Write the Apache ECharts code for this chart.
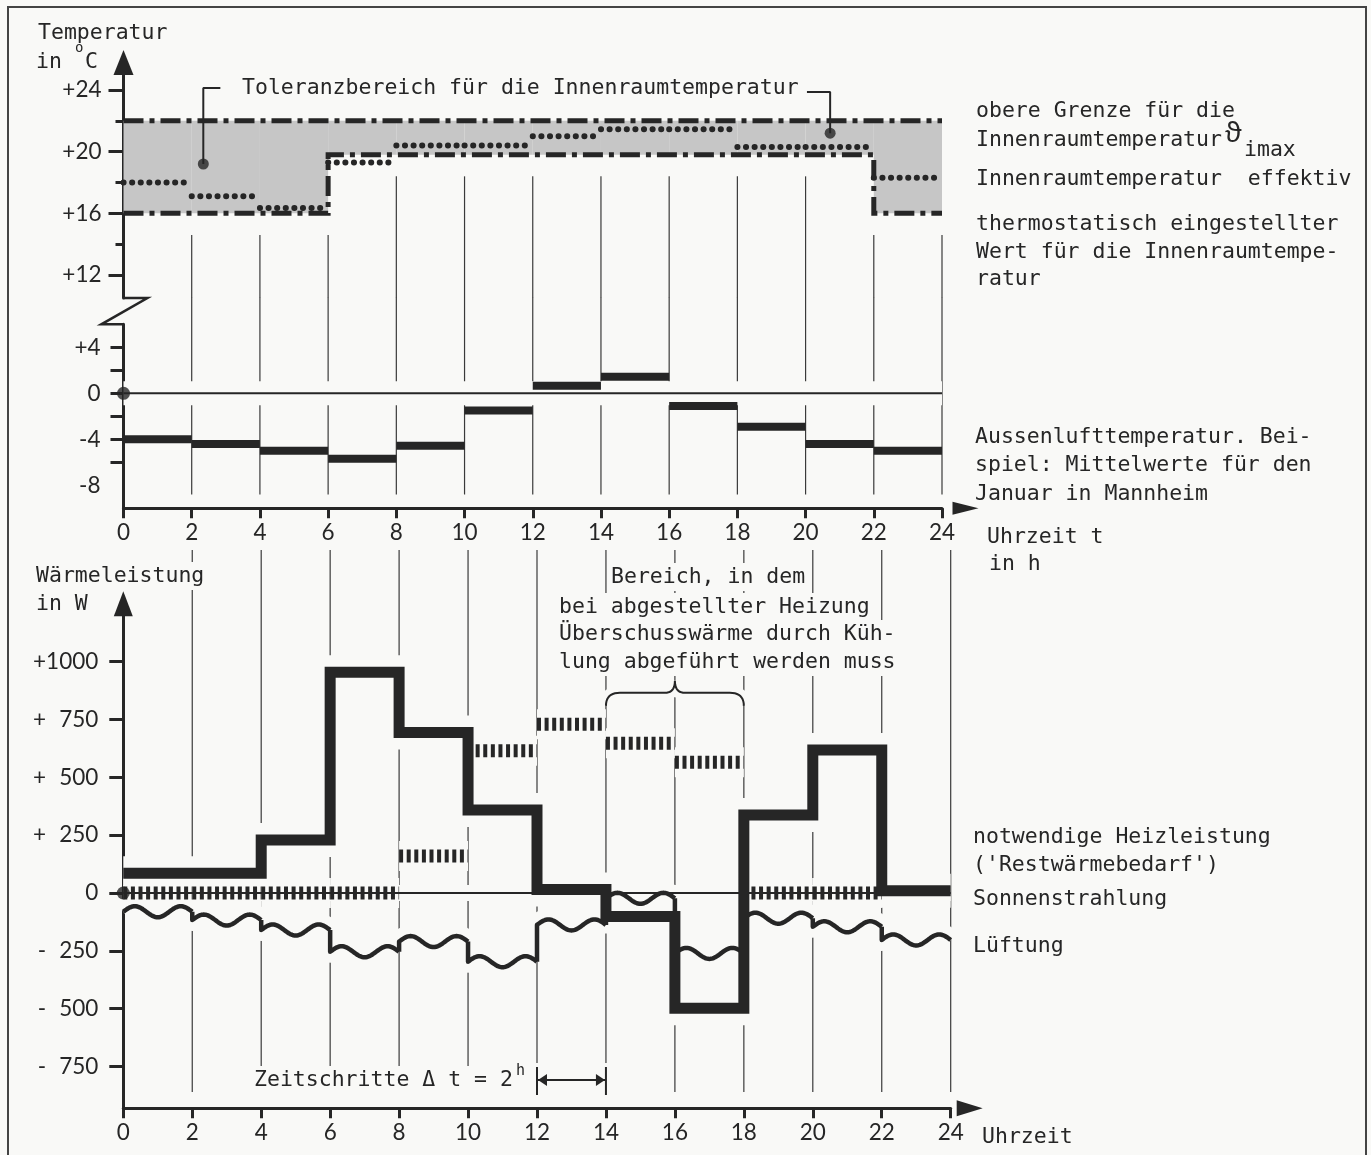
<!DOCTYPE html>
<html>
<head>
<meta charset="utf-8">
<script src="https://cdn.jsdelivr.net/npm/echarts@6/dist/echarts.min.js"></script>
<style>
  html, body { margin: 0; padding: 0; background: #f9f9f7; }
  #chart { width: 1371px; height: 1155px; }
</style>
</head>
<body>
<div id="chart"></div>
<script>
// ---------- data ----------
const hours = [0, 2, 4, 6, 8, 10, 12, 14, 16, 18, 20, 22];   // start of each 2-h time step
const STEP = 2;
const timeTicks = [0, 2, 4, 6, 8, 10, 12, 14, 16, 18, 20, 22, 24];

// upper diagram: temperatures in °C
const tolUpper   = [22, 22, 22, 22, 22, 22, 22, 22, 22, 22, 22, 22];
const tolLower   = [16, 16, 16, 19.8, 19.8, 19.8, 19.8, 19.8, 19.8, 19.8, 19.8, 16];
const indoorEff  = [18.0, 17.1, 16.35, 19.3, 20.4, 20.4, 21.0, 21.45, 21.45, 20.3, 20.3, 18.3];
const outdoorAir = [-4.0, -4.4, -5.0, -5.7, -4.55, -1.5, 0.65, 1.45, -1.1, -2.9, -4.4, -5.0];

// lower diagram: heat flows in W (null = not drawn in the original)
const heatingNeed = [85, 85, 229, 954, 693, 359, 15, -102, -498, 337, 618, 10];
const solarGain   = [0, 0, 0, 0, 160, 615, 729, 647, 565, 0, 0, null];
const ventilation = [-81, -117, -160, -254, -210, -297, -138, -23, -261, -109, -146, -203];

// tick labels
const tempUpperLabels = [12, 16, 20, 24];
const tempUpperMinor  = [14, 18, 22];
const tempLowerLabels = [-8, -4, 0, 4];
const tempLowerTicks  = [-6, -4, -2, 0, 2, 4];
const powerLabels     = [-750, -500, -250, 0, 250, 500, 750, 1000];

// annotation anchors (hours, value)
const tolLeaderLeft  = [[2.84, 24.13], [2.34, 24.13], [2.34, 19.2]];
const tolLeaderRight = [[20.04, 23.87], [20.72, 23.87], [20.72, 21.2]];
const tolDots        = [[2.34, 19.2], [20.72, 21.2]];
const coolingBrace   = { from: 14, to: 18, level: 865 };
const timeStepMark   = { from: 12, to: 14, level: -808, lo: -873, hi: -752 };

// ---------- styles ----------
const INK = '#262626';
const BG = '#f9f9f7';
const GRIDC = '#3a3a3a';
const BAND = '#c6c6c6';
const MONO = '"DejaVu Sans Mono", monospace';
const NUM = 'Lato, "DejaVu Sans", sans-serif';

// ---------- helpers ----------
const segs = vals => hours.map((h, i) => [h, h + STEP, vals[i] == null ? NaN : vals[i]]);
const steps = vals => hours.map((h, i) => [h, vals[i]]).concat([[24, vals[vals.length - 1]]]);
const fmtTemp = v => v > 0 ? '+' + v : (v < 0 ? '-' + (-v) : '0');
const fmtPower = v => v === 0 ? '0' : (v > 0 ? '+' : '-') + (Math.abs(v) < 1000 ? '\u2007' : '') + Math.abs(v);

function vLine(topVal, botVal, width) {
  return function (params, api) {
    const h = api.value(0);
    const t = topVal == null ? api.value(1) : topVal;
    const a = api.coord([h, t]);
    const b = api.coord([h, botVal]);
    return { type: 'line', shape: { x1: a[0], y1: a[1], x2: b[0], y2: b[1] },
             style: { stroke: GRIDC, lineWidth: width || 1.2 } };
  };
}
function hSeg(style) {
  return function (params, api) {
    const v = api.value(2);
    if (v == null || isNaN(v)) return null;
    const a = api.coord([api.value(0), v]);
    const b = api.coord([api.value(1), v]);
    return { type: 'line', shape: { x1: a[0], y1: a[1], x2: b[0], y2: b[1] }, style: Object.assign({}, style) };
  };
}
function waveRender(style) {
  return function (params, api) {
    const s = api.value(0), e = api.value(1), v = api.value(2), pv = api.value(3);
    const a = api.coord([s, v]), b = api.coord([e, v]), p = api.coord([s, pv]);
    const pts = [[a[0], p[1]]];
    const N = 60, cycles = 1.5, amp = 5.5;
    for (let k = 0; k <= N; k++) {
      const t = k / N;
      pts.push([a[0] + (b[0] - a[0]) * t, a[1] - amp * Math.sin(2 * Math.PI * cycles * t)]);
    }
    return { type: 'polyline', shape: { points: pts }, style: Object.assign({ fill: null, lineJoin: 'round' }, style) };
  };
}

// ---------- derived series data ----------
const vT1 = timeTicks.slice(1).map(h => {
  const i = h / STEP;
  const l = tolLower[i - 1];
  const r = i < hours.length ? tolLower[i] : l;
  return [h, Math.min(l, r) - 1.4];
});
const vOnly = timeTicks.slice(1).map(h => [h]);
const bandData = hours.map((h, i) => [h, h + STEP, tolLower[i], tolUpper[i]]);
const ventData = hours.map((h, i) => [h, h + STEP, ventilation[i], i > 0 ? ventilation[i - 1] : ventilation[i]]);

const axLine = { color: INK, width: 3 };
const tickStyle = { color: INK, width: 3 };
const numLabel = { color: INK, fontFamily: NUM, fontSize: 22.5 };

const option = {
  backgroundColor: BG,
  animation: false,
  grid: [
    { left: 123.5, width: 818.5, top: 74.6, height: 223.5 },
    { left: 123.5, width: 818.5, top: 324.3, height: 184 },
    { left: 123.3, width: 827.4, top: 615.3, height: 492.9 }
  ],
  xAxis: [
    { gridIndex: 0, type: 'value', min: 0, max: 24, show: false },
    { gridIndex: 1, type: 'value', min: 0, max: 24, interval: 2,
      axisLine: { show: true, onZero: false, lineStyle: axLine, symbol: ['none', 'triangle'], symbolSize: [13, 26], symbolOffset: [0, 23.5] },
      axisTick: { show: true, length: 10, lineStyle: tickStyle },
      axisLabel: Object.assign({ margin: 13 }, numLabel),
      splitLine: { show: false } },
    { gridIndex: 2, type: 'value', min: 0, max: 24, interval: 2,
      axisLine: { show: true, onZero: false, lineStyle: axLine, symbol: ['none', 'triangle'], symbolSize: [16, 26], symbolOffset: [0, 19] },
      axisTick: { show: true, length: 10, lineStyle: tickStyle },
      axisLabel: Object.assign({ margin: 13 }, numLabel),
      splitLine: { show: false } }
  ],
  yAxis: [
    { gridIndex: 0, type: 'value', min: 10.5, max: 25,
      axisLine: { show: true, onZero: false, lineStyle: axLine, symbol: ['none', 'triangle'], symbolSize: [20, 25], symbolOffset: [0, 12] },
      axisTick: { show: true, customValues: tempUpperLabels, length: 15, lineStyle: tickStyle },
      axisLabel: Object.assign({ customValues: tempUpperLabels, formatter: fmtTemp, margin: 22 }, numLabel),
      splitLine: { show: false } },
    { gridIndex: 0, type: 'value', position: 'left', min: 10.5, max: 25,
      axisLine: { show: false },
      axisTick: { show: true, customValues: tempUpperMinor, length: 8, lineStyle: tickStyle },
      axisLabel: { show: false }, splitLine: { show: false } },
    { gridIndex: 1, type: 'value', min: -10, max: 6,
      axisLine: { show: true, onZero: false, lineStyle: axLine },
      axisTick: { show: true, customValues: tempLowerTicks, length: 13, lineStyle: tickStyle },
      axisLabel: Object.assign({ customValues: tempLowerLabels, formatter: fmtTemp, margin: 23 }, numLabel),
      splitLine: { show: false } },
    { gridIndex: 2, type: 'value', min: -930, max: 1200,
      axisLine: { show: true, onZero: false, lineStyle: axLine, symbol: ['none', 'triangle'], symbolSize: [19, 25], symbolOffset: [0, 11.5] },
      axisTick: { show: true, customValues: powerLabels, length: 14, lineStyle: tickStyle },
      axisLabel: Object.assign({ customValues: powerLabels, formatter: fmtPower, margin: 25 }, numLabel),
      splitLine: { show: false } }
  ],
  series: [
    // ---- upper diagram ----
    { type: 'custom', name: 'gridT1', xAxisIndex: 0, yAxisIndex: 0, z: 1, silent: true, clip: false,
      data: vT1, renderItem: vLine(null, 10.5) },
    { type: 'custom', name: 'gridT2', xAxisIndex: 1, yAxisIndex: 2, z: 1, silent: true, clip: false,
      data: vOnly, renderItem: vLine(8.3, -8.8) },
    { type: 'custom', name: 'Toleranzbereich', xAxisIndex: 0, yAxisIndex: 0, z: 3, silent: true,
      data: bandData,
      renderItem: function (params, api) {
        const a = api.coord([api.value(0), api.value(3)]);
        const b = api.coord([api.value(1), api.value(2)]);
        return { type: 'rect', shape: { x: a[0], y: a[1], width: b[0] - a[0], height: b[1] - a[1] }, style: { fill: BAND } };
      } },
    { type: 'line', name: 'obere Grenze', xAxisIndex: 0, yAxisIndex: 0, z: 4, step: 'end', symbol: 'none',
      data: steps(tolUpper), lineStyle: { color: INK, width: 5, type: [20, 6, 5, 6] } },
    { type: 'line', name: 'thermostatisch eingestellter Wert', xAxisIndex: 0, yAxisIndex: 0, z: 4, step: 'end', symbol: 'none',
      data: steps(tolLower), lineStyle: { color: INK, width: 5, type: [20, 6, 5, 6], join: 'miter' } },
    { type: 'custom', name: 'Innenraumtemperatur effektiv', xAxisIndex: 0, yAxisIndex: 0, z: 5,
      data: segs(indoorEff), renderItem: hSeg({ stroke: INK, lineWidth: 6, lineDash: [0.1, 8.5], lineCap: 'round' }) },
    { type: 'line', xAxisIndex: 0, yAxisIndex: 0, z: 5, symbol: 'none', data: tolLeaderLeft, lineStyle: { color: INK, width: 2 } },
    { type: 'line', xAxisIndex: 0, yAxisIndex: 0, z: 5, symbol: 'none', data: tolLeaderRight, lineStyle: { color: INK, width: 2 } },
    { type: 'scatter', xAxisIndex: 0, yAxisIndex: 0, z: 6, data: tolDots, symbolSize: 11, itemStyle: { color: INK } },

    { type: 'line', xAxisIndex: 1, yAxisIndex: 2, z: 2, symbol: 'none', data: [[0, 0], [24, 0]], lineStyle: { color: BG, width: 24 } },
    { type: 'line', xAxisIndex: 1, yAxisIndex: 2, z: 5, symbol: 'none', data: [[0, 0], [24, 0]], lineStyle: { color: INK, width: 2 } },
    { type: 'scatter', xAxisIndex: 1, yAxisIndex: 2, z: 7, data: [[0, 0]], symbolSize: 13, itemStyle: { color: INK } },
    { type: 'custom', name: 'Aussenlufttemperatur', xAxisIndex: 1, yAxisIndex: 2, z: 6,
      data: segs(outdoorAir),
      renderItem: function (params, api) {
        const a = api.coord([api.value(0), api.value(2)]);
        const b = api.coord([api.value(1), api.value(2)]);
        return { type: 'rect', shape: { x: a[0], y: a[1] - 4, width: b[0] - a[0], height: 8 }, style: { fill: INK } };
      } },

    // ---- lower diagram ----
    { type: 'custom', name: 'gridB', xAxisIndex: 2, yAxisIndex: 3, z: 1, silent: true, clip: false,
      data: vOnly, renderItem: vLine(1482, -860) },
    // halos (hide grid lines around marks)
    { type: 'line', xAxisIndex: 2, yAxisIndex: 3, z: 2, step: 'end', symbol: 'none', data: steps(heatingNeed),
      lineStyle: { color: BG, width: 34, join: 'miter' } },
    { type: 'custom', xAxisIndex: 2, yAxisIndex: 3, z: 2, data: ventData, renderItem: waveRender({ stroke: BG, lineWidth: 22 }) },
    { type: 'custom', xAxisIndex: 2, yAxisIndex: 3, z: 2, data: segs(solarGain), renderItem: hSeg({ stroke: BG, lineWidth: 30 }) },
    { type: 'line', xAxisIndex: 2, yAxisIndex: 3, z: 2, symbol: 'none', data: [[0, 0], [24, 0]], lineStyle: { color: BG, width: 16 } },
    // marks
    { type: 'line', xAxisIndex: 2, yAxisIndex: 3, z: 5, symbol: 'none', data: [[0, 0], [24, 0]], lineStyle: { color: INK, width: 2 } },
    { type: 'custom', name: 'Sonnenstrahlung', xAxisIndex: 2, yAxisIndex: 3, z: 6,
      data: segs(solarGain), renderItem: hSeg({ stroke: INK, lineWidth: 13, lineDash: [4, 3.6] }) },
    { type: 'custom', name: 'Lüftung', xAxisIndex: 2, yAxisIndex: 3, z: 7,
      data: ventData, renderItem: waveRender({ stroke: INK, lineWidth: 4.5 }) },
    { type: 'line', name: 'notwendige Heizleistung', xAxisIndex: 2, yAxisIndex: 3, z: 8, step: 'end', symbol: 'none',
      data: steps(heatingNeed), lineStyle: { color: INK, width: 11, join: 'miter', cap: 'butt' } },
    { type: 'scatter', xAxisIndex: 2, yAxisIndex: 3, z: 9, data: [[0, 0]], symbolSize: 13, itemStyle: { color: INK } }
  ]
};

const chart = echarts.init(document.getElementById('chart'), null, { renderer: 'canvas' });
chart.setOption(option);

// ---------- annotations (texts + decorations positioned through the scales) ----------
const T1 = { xAxisIndex: 0, yAxisIndex: 0 };
const T2 = { xAxisIndex: 1, yAxisIndex: 2 };
const B  = { xAxisIndex: 2, yAxisIndex: 3 };
const px = (f, p) => chart.convertToPixel(f, p);

const texts = [
  ['Temperatur', 34, 32, true],
  ['in', 36, 61], ['C', 85, 61],
  ['Toleranzbereich für die Innenraumtemperatur', 238, 87, true],
  ['obere Grenze für die', 976, 110],
  ['Innenraumtemperatur', 976, 139],
  ['Innenraumtemperatur  effektiv', 976, 178],
  ['thermostatisch eingestellter', 976, 223],
  ['Wert für die Innenraumtempe-', 976, 251],
  ['ratur', 976, 278],
  ['Aussenlufttemperatur. Bei-', 975, 436],
  ['spiel: Mittelwerte für den', 975, 464],
  ['Januar in Mannheim', 975, 493],
  ['Uhrzeit t', 987, 536],
  ['in h', 989, 563],
  ['Wärmeleistung', 32, 575, true],
  ['in W', 32, 603, true],
  ['Bereich, in dem', 607, 576, true],
  ['bei abgestellter Heizung', 555, 606, true],
  ['Überschusswärme durch Küh-', 555, 633, true],
  ['lung abgeführt werden muss', 555, 661, true],
  ['notwendige Heizleistung', 973, 836],
  ["('Restwärmebedarf')", 973, 864],
  ['Sonnenstrahlung', 973, 898],
  ['Lüftung', 973, 945],
  ['Zeitschritte Δ t = 2', 250, 1079, true],
  ['Uhrzeit', 982, 1136]
];

const graphic = texts.map(t => ({
  type: 'text', x: t[1], y: t[2] + 1, z: 50,
  style: Object.assign({ text: t[0], font: '21.5px ' + MONO, fill: INK, textVerticalAlign: 'middle', textAlign: 'left' },
    t[3] ? { backgroundColor: BG, padding: [3, 4] } : {})
}));
graphic.push(
  { type: 'text', x: 75, y: 48, z: 50, style: { text: 'o', font: '14px ' + MONO, fill: INK, textVerticalAlign: 'middle' } },
  { type: 'text', x: 516, y: 1071, z: 50, style: { text: 'h', font: '15px ' + MONO, fill: INK, textVerticalAlign: 'middle' } },
  { type: 'text', x: 1225, y: 134, z: 50, style: { text: 'ϑ', font: '27px "Noto Sans", "DejaVu Sans", sans-serif', fill: INK, textVerticalAlign: 'middle' } },
  { type: 'text', x: 1244, y: 150, z: 50, style: { text: 'imax', font: '21.5px ' + MONO, fill: INK, textVerticalAlign: 'middle' } },
  // frame
  { type: 'rect', z: 60, shape: { x: 8, y: 7, width: 1358, height: 1170 }, style: { fill: null, stroke: '#444', lineWidth: 2 } }
);

// axis break zig-zag between the two temperature ranges
const zA = px(T1, [0, 10.5]), zB = px(T1, [0.7, 10.5]), zC = px(T2, [-0.65, 6]), zD = px(T2, [0, 6]);
graphic.push({ type: 'polyline', z: 40, shape: { points: [zA, zB, zC, zD] }, style: { stroke: INK, lineWidth: 2.5, fill: null } });

// curly brace over 14–18 h (sampled quadratic pieces)
function quad(p0, c, p1, n) {
  const out = [];
  for (let k = 0; k <= n; k++) {
    const t = k / n, u = 1 - t;
    out.push([u * u * p0[0] + 2 * u * t * c[0] + t * t * p1[0], u * u * p0[1] + 2 * u * t * c[1] + t * t * p1[1]]);
  }
  return out;
}
const b0 = px(B, [coolingBrace.from, coolingBrace.level]);
const b1 = px(B, [coolingBrace.to, coolingBrace.level]);
const bm = (b0[0] + b1[0]) / 2, by = b0[1];
const bracePts = [].concat(
  quad([b0[0], by + 13], [b0[0], by], [b0[0] + 14, by], 10),
  quad([bm - 10, by], [bm, by], [bm, by - 12], 10),
  quad([bm, by - 12], [bm, by], [bm + 10, by], 10),
  quad([b1[0] - 14, by], [b1[0], by], [b1[0], by + 13], 10)
);
graphic.push(
  { type: 'polyline', z: 39, shape: { points: bracePts }, style: { stroke: BG, lineWidth: 14, fill: null } },
  { type: 'polyline', z: 40, shape: { points: bracePts }, style: { stroke: INK, lineWidth: 2, fill: null } }
);

// time-step dimension 12–14 h
const d0 = px(B, [timeStepMark.from, timeStepMark.level]);
const d1 = px(B, [timeStepMark.to, timeStepMark.level]);
const dHi = px(B, [timeStepMark.from, timeStepMark.hi])[1];
const dLo = px(B, [timeStepMark.from, timeStepMark.lo])[1];
graphic.push(
  { type: 'rect', z: 45, shape: { x: d0[0] - 4, y: dHi - 4, width: d1[0] - d0[0] + 8, height: dLo - dHi + 8 }, style: { fill: BG } },
  { type: 'line', z: 50, shape: { x1: d0[0], y1: dHi, x2: d0[0], y2: dLo }, style: { stroke: INK, lineWidth: 2 } },
  { type: 'line', z: 50, shape: { x1: d1[0], y1: dHi, x2: d1[0], y2: dLo }, style: { stroke: INK, lineWidth: 2 } },
  { type: 'line', z: 50, shape: { x1: d0[0], y1: d0[1], x2: d1[0], y2: d1[1] }, style: { stroke: INK, lineWidth: 2 } },
  { type: 'polygon', z: 50, shape: { points: [[d0[0] + 1, d0[1]], [d0[0] + 10, d0[1] - 6], [d0[0] + 10, d0[1] + 6]] }, style: { fill: INK } },
  { type: 'polygon', z: 50, shape: { points: [[d1[0] - 1, d1[1]], [d1[0] - 10, d1[1] - 6], [d1[0] - 10, d1[1] + 6]] }, style: { fill: INK } }
);

chart.setOption({ graphic: graphic });
</script>
</body>
</html>
